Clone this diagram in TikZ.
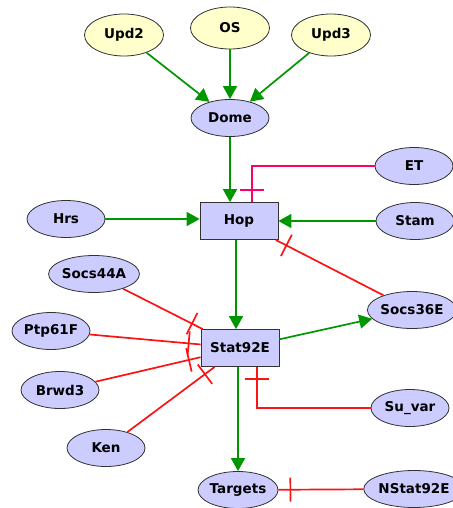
\documentclass[tikz,border=0pt]{standalone}
\usepackage{fontspec}
\setmainfont{DejaVu Sans}
\usetikzlibrary{shapes.geometric, arrows.meta, decorations.markings}

\definecolor{actgreen}{RGB}{0,150,0}
\definecolor{inhred}{RGB}{250,20,20}
\definecolor{inhpink}{RGB}{255,0,102}
\definecolor{genefill}{RGB}{204,204,255}
\definecolor{ligfill}{RGB}{255,255,204}
\definecolor{nodeline}{RGB}{50,50,50}

\begin{document}
\begin{tikzpicture}[x=1pt,y=-1pt,>={Triangle[length=13pt,width=14pt]},
    font=\fontsize{13.5}{16}\selectfont\bfseries,
    gene/.style={ellipse,draw=nodeline,fill=genefill,line width=0.8pt,
        minimum width=78pt,minimum height=37pt,inner sep=0pt},
    ligand/.style={gene,fill=ligfill,minimum width=79pt,minimum height=42pt},
    hub/.style={rectangle,draw=nodeline,fill=genefill,line width=0.8pt,
        minimum width=78pt,minimum height=37pt,inner sep=0pt},
    act/.style={->,draw=actgreen,line width=1.7pt},
    inh/.style={draw=#1,line width=1.7pt,postaction={decorate},
        decoration={markings,mark=at position -12pt with
            {\draw[#1,line width=1.7pt] (0,-12pt) -- (0,12pt);}}},
    inh/.default=inhred]
        \useasboundingbox (0,0) rectangle (452,508);

        % draw the ligands and the receptor
        \node[ligand] (Upd2) at (124,35) {Upd2};
        \node[ligand] (OS)   at (230,28) {OS};
        \node[ligand] (Upd3) at (331,35) {Upd3};
        \node[gene]   (Dome) at (230,118) {Dome};

        % draw the kinase and its regulators
        \node[gene] (ET)   at (414,166) {ET};
        \node[hub]  (Hop)  at (239,221) {Hop};
        \node[gene] (Hrs)  at (66,219)  {Hrs};
        \node[gene] (Stam) at (415,221) {Stam};

        % draw the transcription factor and its regulators
        \node[gene] (Socs44A)  at (94,274)  {Socs44A};
        \node[gene] (Socs36E)  at (412,310) {Socs36E};
        \node[gene] (Ptp61F)   at (51,331)  {Ptp61F};
        \node[hub]  (Stat92E)  at (240,348) {Stat92E};
        \node[gene] (Brwd3)    at (60,390)  {Brwd3};
        \node[gene] (Suvar)    at (410,408) {Su\_var};
        \node[gene] (Ken)      at (106,448) {Ken};
        \node[gene] (Targets)  at (238,490) {Targets};
        \node[gene] (NStat92E) at (414,489) {NStat92E};

        % draw the activations
        \draw[act] (Upd2) -- (Dome);
        \draw[act] (OS) -- (Dome);
        \draw[act] (Upd3) -- (Dome);
        \draw[act] (Dome) -- (Dome |- Hop.north);
        \draw[act] (Hrs) -- (Hrs -| Hop.west);
        \draw[act] (Stam) -- (Stam -| Hop.east);
        \draw[act] ([xshift=-3pt]Hop.south) -- ([xshift=-3pt]Hop.south |- Stat92E.north);
        \draw[act] (Stat92E) -- (Socs36E);
        \draw[act] (Targets |- Stat92E.south) -- (Targets);

        % draw the inhibitions
        % the bar sits a little before the end of the line
        \draw[inh=inhpink] (ET) -| ([xshift=13pt]Hop.north);
        \draw[inh] (Socs36E) -- (Hop);
        \draw[inh] (Socs44A) -- (Stat92E);
        \draw[inh] (Ptp61F) -- (Stat92E);
        \draw[inh] (Brwd3) -- (Stat92E);
        \draw[inh] (Ken) -- (Stat92E);
        \draw[inh] (Suvar) -| ([xshift=17pt]Stat92E.south);
        \draw[inh] (NStat92E) -- (Targets);

    \end{tikzpicture}
\end{document}
